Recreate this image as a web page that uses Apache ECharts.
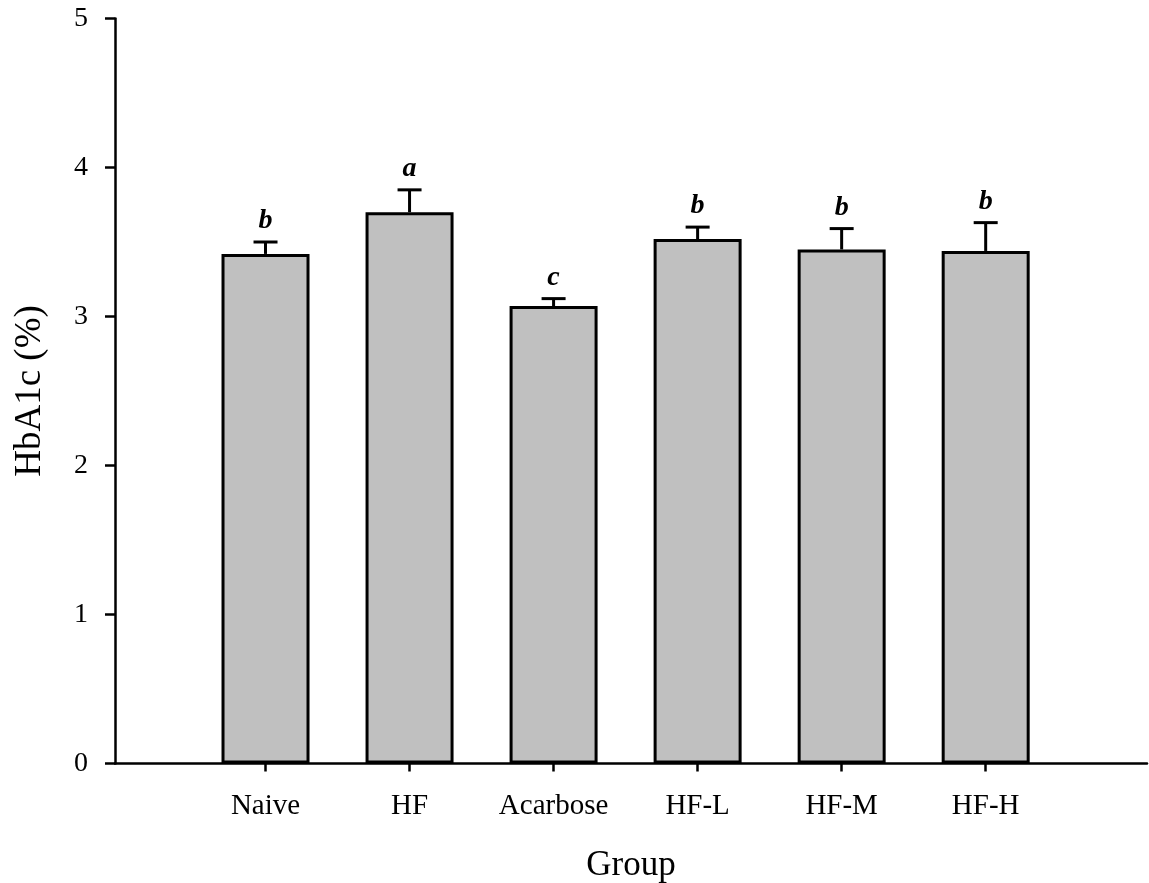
<!DOCTYPE html>
<html>
<head>
<meta charset="utf-8">
<title>HbA1c</title>
<script src="https://cdn.jsdelivr.net/npm/echarts@6/dist/echarts.min.js"></script>
<style>
  html, body { margin: 0; padding: 0; background: #fff; }
  #chart { width: 1149px; height: 883px; }
</style>
</head>
<body>
<div id="chart"></div>
<script>
// data
const groups = ['Naive', 'HF', 'Acarbose', 'HF-L', 'HF-M', 'HF-H']
const positions = [1, 2, 3, 4, 5, 6]
const means = [3.42, 3.70, 3.07, 3.52, 3.45, 3.44]
const errors = [0.08, 0.15, 0.05, 0.08, 0.14, 0.19]
const letters = ['b', 'a', 'c', 'b', 'b', 'b']
const yTicks = [0, 1, 2, 3, 4, 5]

const font = 'Liberation Serif, Times New Roman, serif'

const chart = echarts.init(document.getElementById('chart'))

chart.setOption({
  animation: false,
  grid: {
    left: 115,
    right: 2,
    top: 18.5,
    bottom: 119.5,
    containLabel: false,
    outerBoundsMode: 'none'
  },
  xAxis: {
    type: 'value',
    min: -0.045,
    max: 7.12,
    name: 'Group',
    nameLocation: 'middle',
    nameGap: 85,
    nameTextStyle: { fontFamily: font, fontSize: 35, color: '#000' },
    splitLine: { show: false },
    axisLine: { onZero: false, lineStyle: { color: '#000', width: 2.5 } },
    axisTick: {
      customValues: positions,
      length: 8,
      lineStyle: { color: '#000', width: 2.5 }
    },
    axisLabel: {
      customValues: positions,
      margin: 28,
      fontFamily: font,
      fontSize: 29,
      color: '#000',
      formatter: v => groups[Math.round(v) - 1] || ''
    }
  },
  yAxis: {
    type: 'value',
    min: 0,
    max: 5,
    interval: 1,
    name: 'HbA1c (%)',
    nameLocation: 'middle',
    nameGap: 66,
    nameTextStyle: { fontFamily: font, fontSize: 37, color: '#000' },
    splitLine: { show: false },
    axisLine: { show: true, onZero: false, lineStyle: { color: '#000', width: 2.5 } },
    axisTick: {
      show: true,
      length: 10,
      lineStyle: { color: '#000', width: 2.5 }
    },
    axisLabel: {
      margin: 27,
      fontFamily: font,
      fontSize: 28,
      color: '#000',
      formatter: v => (yTicks.includes(v) ? String(v) : '')
    }
  },
  series: [
    {
      type: 'bar',
      barWidth: 88,
      itemStyle: {
        color: '#c0c0c0',
        borderColor: '#000',
        borderWidth: 3
      },
      data: positions.map((p, i) => [p, means[i]]),
      z: 2
    },
    {
      // upper error bars + significance letters
      type: 'custom',
      data: positions.map((p, i) => [p, means[i], means[i] + errors[i], i]),
      renderItem: (params, api) => {
        const base = api.coord([api.value(0), api.value(1)])
        const top = api.coord([api.value(0), api.value(2)])
        const half = 12
        const style = { stroke: '#000', lineWidth: 3 }
        return {
          type: 'group',
          children: [
            {
              type: 'line',
              shape: { x1: top[0], y1: base[1], x2: top[0], y2: top[1] },
              style
            },
            {
              type: 'line',
              shape: { x1: top[0] - half, y1: top[1], x2: top[0] + half, y2: top[1] },
              style
            },
            {
              type: 'text',
              x: top[0],
              y: top[1] - 7,
              style: {
                text: letters[api.value(3)],
                fontFamily: font,
                fontSize: 28,
                fontStyle: 'italic',
                fontWeight: 'bold',
                fill: '#000',
                align: 'center',
                verticalAlign: 'bottom'
              }
            }
          ]
        }
      },
      z: 3
    }
  ]
})
</script>
</body>
</html>
